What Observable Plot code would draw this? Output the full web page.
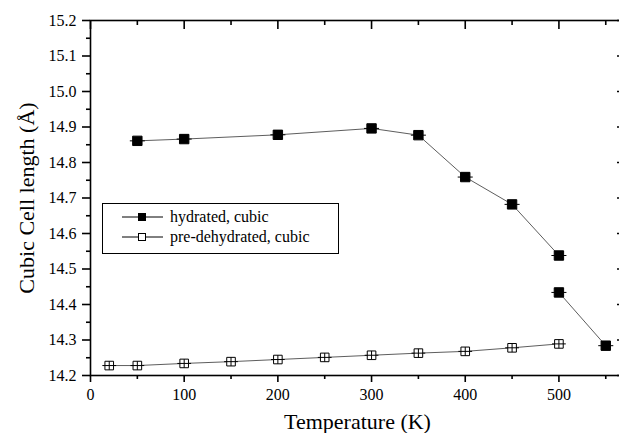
<!DOCTYPE html>
<html><head><meta charset="utf-8">
<script src="https://cdn.jsdelivr.net/npm/d3@7"></script>
<script src="https://cdn.jsdelivr.net/npm/@observablehq/plot@0.6"></script>
<style>html,body{margin:0;padding:0;overflow:hidden;background:#fff;}
svg text{font-family:"Liberation Serif","Times New Roman","DejaVu Serif",serif !important;}
svg{max-width:none !important;}
</style>
</head><body><div id="chart"></div>
<script>
// Data
const hydT = [50, 100, 200, 300, 350, 400, 450, 500, 500, 550];
const hydL = [14.861, 14.866, 14.878, 14.896, 14.877, 14.759, 14.682, 14.538, 14.434, 14.284];
const hydSeg = [0, 0, 0, 0, 0, 0, 0, 0, 1, 1];
const preT = [20, 50, 100, 150, 200, 250, 300, 350, 400, 450, 500];
const preL = [14.228, 14.228, 14.234, 14.239, 14.245, 14.251, 14.257, 14.263, 14.268, 14.278, 14.289];
const seriesNames = ["hydrated, cubic", "pre-dehydrated, cubic"];
const xMajor = [0, 100, 200, 300, 400, 500];
const xMinor = [50, 150, 250, 350, 450, 550];
const yMajor = [14.2, 14.3, 14.4, 14.5, 14.6, 14.7, 14.8, 14.9, 15.0, 15.1, 15.2];
const yMinor = [14.25, 14.35, 14.45, 14.55, 14.65, 14.75, 14.85, 14.95, 15.05, 15.15];
const xTitle = "Temperature (K)";
const yTitle = "Cubic Cell length (Å)";

const hyd = hydT.map((t, i) => ({t, L: hydL[i], seg: hydSeg[i]}));
const pre = preT.map((t, i) => ({t, L: preL[i]}));

// custom symbols: square with short horizontal bar; open square with cross
const filledSym = {
  draw(ctx, size) {
    const r = Math.sqrt(size / Math.PI);
    ctx.moveTo(-r, -r); ctx.lineTo(r, -r); ctx.lineTo(r, r); ctx.lineTo(-r, r); ctx.closePath();
    ctx.moveTo(-r * 1.6, 0); ctx.lineTo(r * 1.6, 0);
  }
};
const openSym = {
  draw(ctx, size) {
    const r = Math.sqrt(size / Math.PI);
    ctx.moveTo(-r, -r); ctx.lineTo(r, -r); ctx.lineTo(r, r); ctx.lineTo(-r, r); ctx.closePath();
    ctx.moveTo(-r * 1.6, 0); ctx.lineTo(r * 1.6, 0);
    ctx.moveTo(0, -r); ctx.lineTo(0, r);
  }
};

const tk = {stroke: "black", strokeWidth: 1.6};
const chart = Plot.plot({
  width: 626, height: 433,
  marginLeft: 90, marginRight: 2, marginTop: 20, marginBottom: 58,
  style: {fontFamily: "Liberation Serif", fontSize: "16px", background: "white", overflow: "visible", color: "black", maxWidth: "none"},
  x: {domain: [0, 570]},
  y: {domain: [14.2, 15.2]},
  marks: [
    Plot.frame({stroke: "black", strokeWidth: 1.6}),
    Plot.axisX({ticks: xMajor, tickSize: 7, tickPadding: 6, fontSize: 16, label: null, tickFormat: d3.format("d"), ...tk}),
    Plot.axisX({ticks: xMinor, tickSize: 4, text: null, label: null, ...tk}),
    Plot.axisX({anchor: "top", ticks: xMajor, tickSize: -8, text: null, label: null, ...tk}),
    Plot.axisX({anchor: "top", ticks: xMinor, tickSize: -4, text: null, label: null, ...tk}),
    Plot.axisY({ticks: yMajor, tickSize: 8, tickPadding: 6, fontSize: 16, label: null, tickFormat: d3.format(".1f"), ...tk}),
    Plot.axisY({ticks: yMinor, tickSize: 4, text: null, label: null, ...tk}),
    Plot.axisY({anchor: "right", ticks: yMajor, tickSize: -8, text: null, label: null, ...tk}),
    Plot.axisY({anchor: "right", ticks: yMinor, tickSize: -4, text: null, label: null, ...tk}),
    Plot.line(hyd, {x: "t", y: "L", z: "seg", stroke: "#333", strokeWidth: 0.8}),
    Plot.line(pre, {x: "t", y: "L", stroke: "#333", strokeWidth: 0.8}),
    Plot.dot(hyd, {x: "t", y: "L", symbol: filledSym, r: 4.7, fill: "black", stroke: "black", strokeWidth: 1}),
    Plot.dot(pre, {x: "t", y: "L", symbol: openSym, r: 4.3, fill: "white", stroke: "black", strokeWidth: 1}),
    Plot.text([xTitle], {frameAnchor: "bottom", textAnchor: "middle", lineAnchor: "middle", dy: 46, fontSize: 22, fill: "black"}),
    Plot.text([yTitle], {frameAnchor: "left", textAnchor: "middle", lineAnchor: "middle", dx: -64, rotate: -90, fontSize: 22, fill: "black"})
  ]
});
document.getElementById("chart").appendChild(chart);

// legend box
const svg = d3.select(chart);
const g = svg.append("g").attr("font-size", 16).attr("text-anchor", "start");
g.append("rect").attr("x", 102.5).attr("y", 203.5).attr("width", 236).attr("height", 50)
  .attr("fill", "white").attr("stroke", "black").attr("stroke-width", 1);
seriesNames.forEach((name, i) => {
  const cy = 217 + i * 20;
  g.append("line").attr("x1", 122).attr("x2", 163).attr("y1", cy).attr("y2", cy)
    .attr("stroke", "black").attr("stroke-width", 1);
  g.append("rect").attr("x", 138.5).attr("y", cy - 3.5).attr("width", 7).attr("height", 7)
    .attr("fill", i === 0 ? "black" : "white").attr("stroke", "black").attr("stroke-width", 1);
  g.append("text").attr("x", 170).attr("y", cy).attr("dy", "0.33em").attr("fill", "black").text(name);
});
</script>
</body></html>
